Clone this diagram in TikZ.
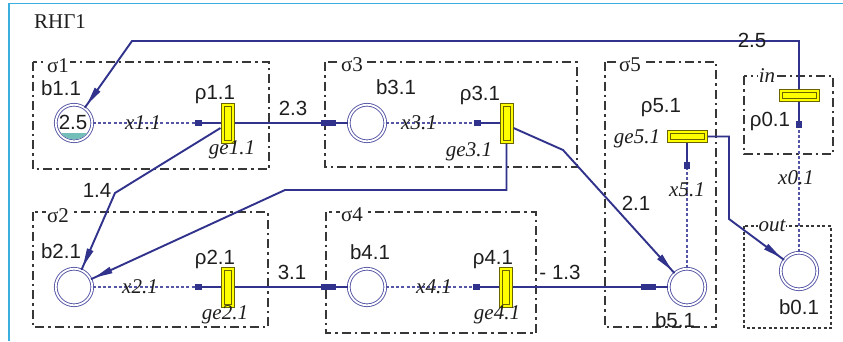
\documentclass[tikz,border=0pt]{standalone}
\usepackage{fontspec}
\setmainfont{Liberation Serif}
\setsansfont{Liberation Sans}
\usetikzlibrary{calc,decorations.markings}
\definecolor{arcnavy}{RGB}{48,50,140}
\definecolor{placecol}{RGB}{85,85,165}
\definecolor{boxgray}{RGB}{55,55,55}
\definecolor{framecol}{RGB}{60,175,225}
\definecolor{transfill}{RGB}{255,255,0}
\definecolor{transedge}{RGB}{105,100,0}
\definecolor{tealfill}{RGB}{115,190,185}
\definecolor{txt}{RGB}{30,30,30}
\begin{document}
\begin{tikzpicture}[x=1pt,y=-1pt,
  place/.style={circle,draw=placecol,double=white,double distance=1.8pt,line width=0.9pt,minimum size=36.5pt,inner sep=0pt},
  transbox/.style={rectangle,draw=transedge,fill=transfill,line width=1pt,inner sep=0pt,
     path picture={\draw[transedge,line width=0.8pt] ([shift={(3pt,-3pt)}]path picture bounding box.north west) rectangle ([shift={(-3pt,3pt)}]path picture bounding box.south east);}},
  vtrans/.style={transbox,minimum width=13pt,minimum height=40pt},
  htrans/.style={transbox,minimum width=40pt,minimum height=12pt},
  groupbox/.style={draw=boxgray,line width=1.1pt,dash pattern=on 9pt off 4pt on 2.5pt off 4pt},
  outbox/.style={draw=boxgray,line width=1.1pt,dash pattern=on 3pt off 2.5pt},
  arc/.style={draw=arcnavy,line width=1.9pt},
  testarc/.style={draw=placecol,line width=1.1pt,dash pattern=on 3pt off 2.2pt,
     postaction={decorate,decoration={markings,mark=at position 1 with {\draw[arcnavy,solid,line width=1.9pt] (0pt,0pt) -- (-22pt,0pt); \fill[arcnavy] (-26pt,-2.8pt) rectangle (-19pt,2.8pt);}}}},
  barmark/.style={postaction={decorate,decoration={markings,mark=at position -12pt with {\fill[arcnavy] (-15pt,-2.8pt) rectangle (0pt,2.8pt);}}}},
  tipmark/.style={postaction={decorate,decoration={markings,mark=at position -4pt with {\fill[arcnavy] (0pt,0pt) -- (-18pt,3.5pt) -- (-18pt,-3.5pt) -- cycle;}}}},
  sanslab/.style={font=\sffamily\fontsize{20.5}{22}\selectfont,text=txt,inner sep=0pt},
  seriflab/.style={font=\fontsize{21}{23}\selectfont,text=txt,inner sep=0pt},
  itlab/.style={font=\itshape\fontsize{21}{23}\selectfont,text=txt,inner sep=0pt},
  masked/.style={fill=white,inner sep=1pt}
]
\useasboundingbox (0,0) rectangle (843,341);
\fill[white] (0,0) rectangle (843,341);
% frame
\draw[framecol,line width=1.5pt] (9,341) -- (9,3.5) -- (843,3.5);
\node[seriflab] (title) at (60,22) {RHΓ1};

% group boxes
\draw[groupbox] (33,62) rectangle (269,169);
\draw[groupbox] (33,212) rectangle (268,327);
\draw[groupbox] (325,62) rectangle (577,167);
\draw[groupbox] (326,212) rectangle (536,333);
\draw[groupbox] (605,62) rectangle (716,327);
\draw[groupbox] (744,76) rectangle (833,154);
\draw[outbox] (744,226) rectangle (831,328);

% places
\node[place] (p11) at (74,123) {};
\node[place] (p21) at (74,287) {};
\node[place] (p31) at (367,123) {};
\node[place] (p41) at (367,287) {};
\node[place] (p51) at (687,287) {};
\node[place] (p01) at (799,271) {};
\begin{scope}
  \clip (p11.center) circle (16.4);
  \fill[tealfill] (50,133) rectangle (100,145);
\end{scope}
\node[sanslab] (m11) at (73,122) {2.5};

% transitions
\node[vtrans] (t11) at (227.5,123) {};
\node[vtrans] (t21) at (227.5,287) {};
\node[vtrans] (t31) at (506.5,123) {};
\node[vtrans] (t41) at (506,287) {};
\node[htrans] (t51) at (687,136.5) {};
\node[htrans] (t01) at (799,95.5) {};

% corner coordinates
\coordinate (cA) at (132,41);
\coordinate (cC) at (115,193);
\coordinate (cD) at (285,190);
\coordinate (cE) at (563,150);
\coordinate (cH) at (729,219);

% arcs
\draw[arc,tipmark] (t01.north) |- (cA) -- (p11);
\draw[arc,barmark] (t11.east) -- (p31.west);
\draw[arc,tipmark] ($(t11.west)+(0,5)$) -- (cC) -- (p21);
\draw[arc,tipmark] (t31.south) |- (cD) -- (p21);
\draw[arc,tipmark] ($(t31.east)+(0,5)$) -- (cE) -- (p51);
\draw[arc,barmark] (t21.east) -- (p41.west);
\draw[arc,barmark] (t41.east) -- (p51.west);
\draw[arc,tipmark] (t51.east) -| (cH) -- (p01);

% test arcs
\draw[testarc] (p11.east) -- (t11.west);
\draw[testarc] (p21.east) -- (t21.west);
\draw[testarc] (p31.east) -- (t31.west);
\draw[testarc] (p41.east) -- (t41.west);
\draw[testarc] (p51.north) -- (t51.south);
\draw[testarc] (p01.north) -- (t01.south);

% group labels
\node[seriflab,masked] (s1) at (58,66) {σ1};
\node[seriflab,masked] (s2) at (58,216) {σ2};
\node[seriflab,masked] (s3) at (352,65) {σ3};
\node[seriflab,masked] (s4) at (352,215) {σ4};
\node[seriflab,masked] (s5) at (630,65) {σ5};
\node[itlab,masked] (lin) at (767,76) {in};
\node[itlab,masked] (lout) at (772,226) {out};

% place labels
\node[sanslab] (l11) at (61,88) {b1.1};
\node[sanslab] (l21) at (61,251) {b2.1};
\node[sanslab] (l31) at (396,87) {b3.1};
\node[sanslab] (l41) at (370,252) {b4.1};
\node[sanslab] (l51) at (675,320) {b5.1};
\node[sanslab] (l01) at (799,307) {b0.1};

% transition labels
\node[sanslab] (r11) at (215,95) {ρ1.1};
\node[sanslab] (r21) at (215,259) {ρ2.1};
\node[sanslab] (r31) at (480,95) {ρ3.1};
\node[sanslab] (r41) at (493,260) {ρ4.1};
\node[sanslab] (r51) at (661,108) {ρ5.1};
\node[sanslab] (r01) at (770,121) {ρ0.1};
\node[itlab] (g11) at (232,150) {ge1.1};
\node[itlab] (g21) at (225,315) {ge2.1};
\node[itlab] (g31) at (469,152) {ge3.1};
\node[itlab] (g41) at (497,315) {ge4.1};
\node[itlab] (g51) at (637,139) {ge5.1};

% test arc labels
\node[itlab] (x11) at (143,123) {x1.1};
\node[itlab] (x21) at (140,287) {x2.1};
\node[itlab] (x31) at (419,123) {x3.1};
\node[itlab] (x41) at (434,287) {x4.1};
\node[itlab] (x51) at (687,190) {x5.1};
\node[itlab] (x01) at (796,178) {x0.1};

% arc weights
\node[sanslab] (w1) at (752,40) {2.5};
\node[sanslab] (w2) at (293,108) {2.3};
\node[sanslab] (w3) at (97,190) {1.4};
\node[sanslab] (w4) at (636,203) {2.1};
\node[sanslab] (w5) at (292,272) {3.1};
\node[sanslab] (w6) at (560,272) {- 1.3};
\end{tikzpicture}
\end{document}
